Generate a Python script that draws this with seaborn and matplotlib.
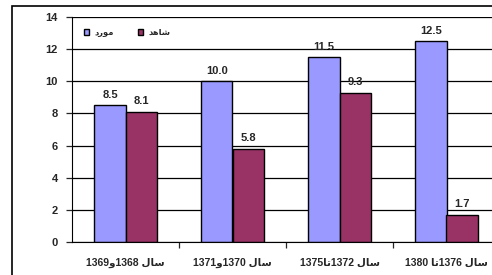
import seaborn as sns
import pandas as pd
import matplotlib.pyplot as plt
from matplotlib.patches import Rectangle
from matplotlib.font_manager import FontProperties

# Persian text is written in visual order with Arabic presentation forms,
# since matplotlib 3.10 does no right-to-left shaping by itself.
periods = [
    "1369\uFEED1368 \uFEDD\uFE8E\uFEB3",       # سال 1368و1369
    "1371\uFEED1370 \uFEDD\uFE8E\uFEB3",       # سال 1370و1371
    "1375\uFE8E\uFE971372 \uFEDD\uFE8E\uFEB3",  # سال 1372تا1375
    "1380 \uFE8E\uFE971376 \uFEDD\uFE8E\uFEB3",  # سال 1376تا 1380
]
case_name = "\uFEA9\uFEAD\uFEEE\uFEE3"      # مورد
control_name = "\uFEAA\uFEEB\uFE8E\uFEB7"   # شاهد
case_vals = [8.5, 10.0, 11.5, 12.5]
control_vals = [8.1, 5.8, 9.3, 1.7]

df = pd.DataFrame({
    "period": periods * 2,
    "group": [case_name] * 4 + [control_name] * 4,
    "value": case_vals + control_vals,
})

sns.set_style("white")
fams = ["Liberation Sans", "DejaVu Sans"]
plt.rcParams["font.family"] = fams
plt.rcParams["font.weight"] = "bold"

fig = plt.figure(figsize=(4.92, 2.75), dpi=100)
ax = fig.add_axes([72 / 492, 1 - 242 / 275, 428 / 492, 225 / 275])

sns.barplot(df, x="period", y="value", hue="group",
            palette=["#9999FF", "#993366"], saturation=1,
            width=0.58, gap=0, edgecolor="black", linewidth=1,
            errorbar=None, ax=ax)

ax.set_xlim(-0.5, 3.5)
ax.set_ylim(0, 14)
ax.set_yticks(range(0, 15, 2))
ax.set_xlabel("")
ax.set_ylabel("")
ax.yaxis.grid(True, color="black", lw=0.9)
ax.set_axisbelow(True)
for s in ["top", "right"]:
    ax.spines[s].set_visible(False)
ax.spines["left"].set_color("black")
ax.spines["bottom"].set_color("black")

ax.tick_params(axis="y", left=True, length=4, width=0.9, pad=6, labelsize=8)
ax.tick_params(axis="x", which="major", bottom=False, pad=8, labelsize=7.5)
ax.set_xticks([0.5, 1.5, 2.5], minor=True)
ax.tick_params(axis="x", which="minor", bottom=True, length=4, width=0.9)

for c in ax.containers:
    ax.bar_label(c, fmt="%.1f", padding=4, fontsize=8, fontweight="bold")

handles, labels = ax.get_legend_handles_labels()
ax.legend(handles, labels, ncol=2, frameon=False, loc="upper left",
          bbox_to_anchor=(0.01, 0.98), handlelength=0.65, handleheight=0.65,
          columnspacing=2.9, handletextpad=0.6,
          prop=FontProperties(family=fams, weight="bold", size=6))

fig.patches.append(Rectangle((12 / 492, -0.1), 1.2, 1.1 - 6 / 275,
                             transform=fig.transFigure, fill=False,
                             lw=1.2, edgecolor="black"))

fig.savefig("out.png", dpi=100)
